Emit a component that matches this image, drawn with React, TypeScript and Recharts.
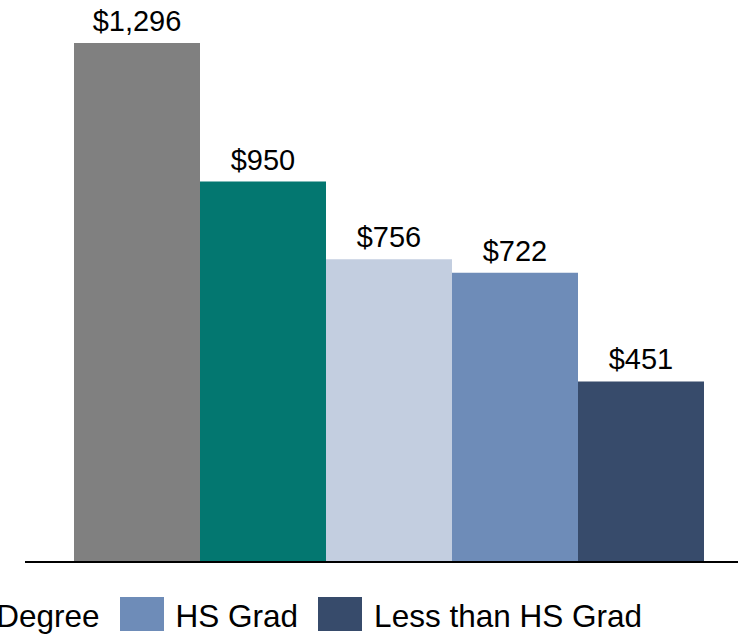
import React from 'react';
import { BarChart, Bar, XAxis, YAxis, LabelList } from 'recharts';

const categories = ['Median Weekly Earnings'];
const seriesNames = ['Graduate Degree', "Bachelor's Degree", 'Associate Degree', 'HS Grad', 'Less than HS Grad'];
const seriesValues = [1296, 950, 756, 722, 451];
const seriesColors = ['#808080', '#037770', '#C3CEE0', '#6E8CB8', '#374B6B'];

const seriesKeys = seriesNames.map((_, i) => `s${i}`);
const data = categories.map((c) => {
  const row: Record<string, string | number> = { category: c };
  seriesKeys.forEach((k, i) => {
    row[k] = seriesValues[i];
  });
  return row;
});

const FONT = '"Liberation Sans", Arial, sans-serif';
const fmt = (v: any) => `$${Number(v).toLocaleString('en-US')}`;

function LegendBox() {
  return (
    <div
      style={{
        position: 'absolute',
        right: 96,
        top: 597,
        display: 'flex',
        alignItems: 'center',
        whiteSpace: 'nowrap',
        fontFamily: FONT,
        fontSize: 31.5,
        color: '#000',
      }}
    >
      {seriesNames.map((name, i) => (
        <div key={name} style={{ display: 'flex', alignItems: 'center', marginLeft: i === 0 ? 0 : 20 }}>
          <div style={{ width: 44, height: 34, background: seriesColors[i] }} />
          <span style={{ marginLeft: 12, lineHeight: '34px', position: 'relative', top: 2 }}>{name}</span>
        </div>
      ))}
    </div>
  );
}

export default function App() {
  return (
    <div
      style={{
        position: 'fixed',
        left: 0,
        top: 0,
        width: 738,
        height: 637,
        overflow: 'hidden',
        background: '#fff',
      }}
    >
      <BarChart
        width={760}
        height={637}
        data={data}
        margin={{ top: 43, right: 5, bottom: 45, left: 25 }}
        barCategoryGap={49}
        barGap={0}
      >
        <XAxis
          dataKey="category"
          height={30}
          tick={false}
          tickLine={false}
          axisLine={{ stroke: '#000', strokeWidth: 2 }}
        />
        <YAxis hide domain={[0, 1296]} />
        {seriesKeys.map((k, i) => (
          <Bar key={k} dataKey={k} name={seriesNames[i]} fill={seriesColors[i]} isAnimationActive={false}>
            <LabelList
              dataKey={k}
              position="top"
              offset={12}
              formatter={fmt}
              style={{ fontFamily: FONT, fontSize: 29, fill: '#000' }}
            />
          </Bar>
        ))}
      </BarChart>
      <LegendBox />
    </div>
  );
}
